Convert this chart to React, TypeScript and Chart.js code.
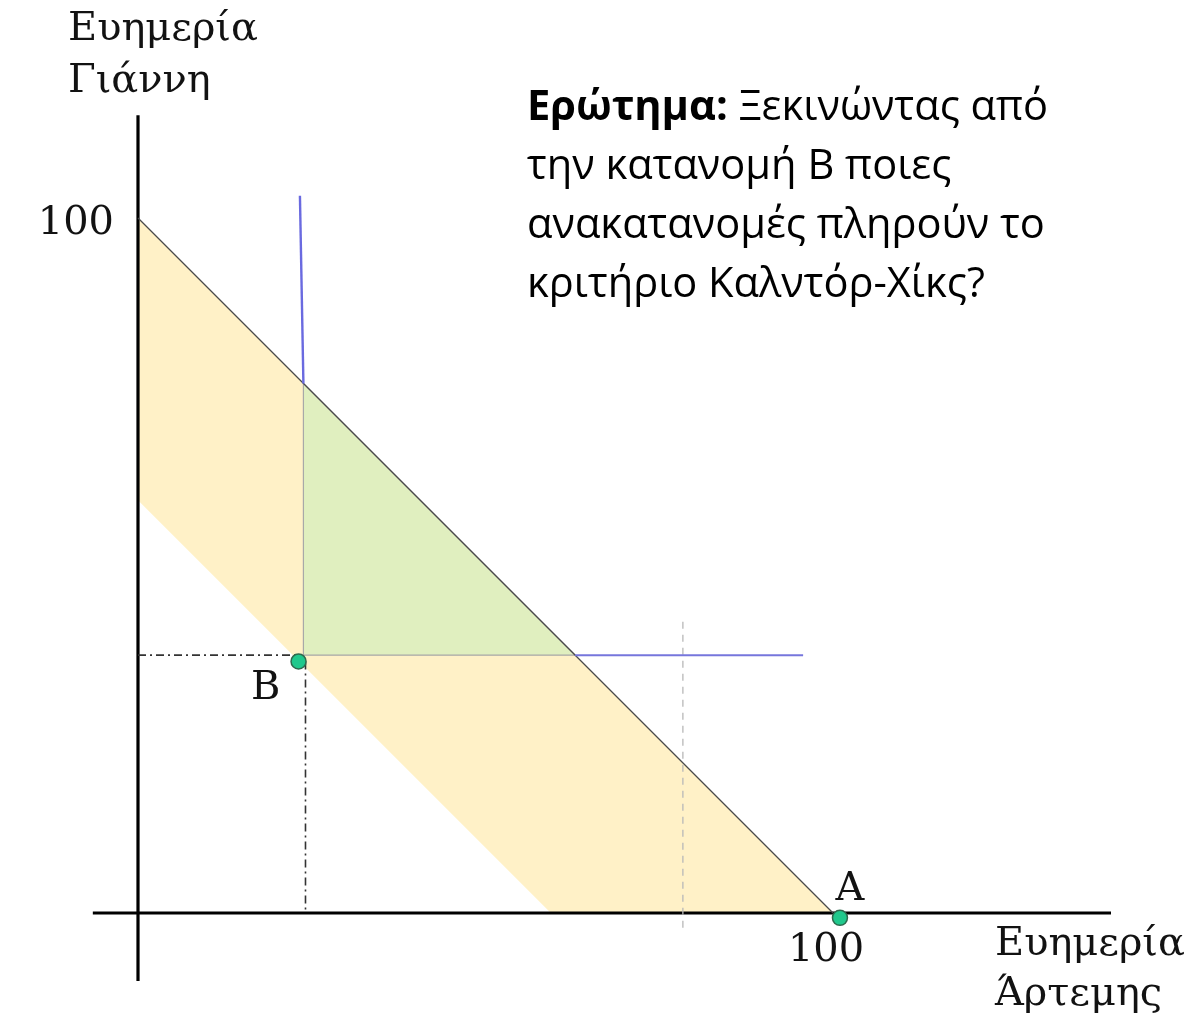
import React, { useEffect, useRef } from "react";
import { Chart, registerables } from "chart.js";

Chart.register(...registerables);

// ---- data (welfare units, 0..100) ----
const bandX = [0, 100, 59.4, 0, 0];
const bandY = [100, 0, 0, 59.4, 100];
const gainX = [23.8, 23.8, 62.9, 23.8];
const gainY = [76.2, 37.1, 37.1, 76.2];
const frontierX = [0, 100];
const frontierY = [100, 0];
const blueVX = [23.3, 23.8];
const blueVY = [103.2, 76.2];
const blueHX = [62.9, 95.7];
const blueHY = [37.1, 37.1];
const guideHX = [0, 22.9];
const guideHY = [37.1, 37.1];
const guideVX = [24.1, 24.1];
const guideVY = [36.2, 0];
const refX = [78.4, 78.4];
const refY = [41.9, -2.4];
const pointNames = ["B", "A"];
const pointX = [23.1, 101];
const pointY = [36.2, -0.7];
const axisHX = [-6.5, 140];
const axisHY = [0, 0];
const axisVX = [0, 0];
const axisVY = [114.8, -9.8];
const tickValue = 100;
const tickLabel = "100";
const yTitle = ["Ευημερία", "Γιάννη"];
const xTitle = ["Ευημερία", "Άρτεμης"];
const questionBold = "Ερώτημα:";
const questionLines = [" Ξεκινώντας από", "την κατανομή Β ποιες", "ανακατανομές πληρούν το", "κριτήριο Καλντόρ-Χίκς?"];

const zip = (xs: number[], ys: number[]) => xs.map((x, i) => ({ x, y: ys[i] }));

const textPlugin = {
  id: "textLabels",
  afterDraw(chart: any) {
    const ctx = chart.ctx as CanvasRenderingContext2D;
    const sx = chart.scales.x;
    const sy = chart.scales.y;
    ctx.save();
    ctx.fillStyle = "#121212";
    ctx.textBaseline = "alphabetic";

    const serif = '"DejaVu Serif", "Liberation Serif", serif';
    ctx.font = `100px ${serif}`;
    const sSize = (100 * 190) / ctx.measureText(yTitle[0]).width;
    ctx.font = `${sSize}px ${serif}`;
    ctx.textAlign = "left";
    ctx.fillText(yTitle[0], 68, 40);
    ctx.fillText(yTitle[1], 68, 92);
    ctx.fillText(xTitle[0], 995, 955);
    ctx.fillText(xTitle[1], 995, 1005);

    // ticks
    ctx.textAlign = "right";
    ctx.fillText(tickLabel, sx.getPixelForValue(0) - 24, sy.getPixelForValue(tickValue) + 16);
    ctx.textAlign = "center";
    ctx.fillText(tickLabel, sx.getPixelForValue(tickValue) - 7, sy.getPixelForValue(0) + 48);

    // point labels
    const bx = sx.getPixelForValue(pointX[0]);
    const by = sy.getPixelForValue(pointY[0]);
    ctx.fillText(pointNames[0], bx - 33, by + 38);
    const ax = sx.getPixelForValue(pointX[1]);
    const ay = sy.getPixelForValue(pointY[1]);
    ctx.fillText(pointNames[1], ax + 10, ay - 18);

    // question
    const sans = '"Open Sans", "Noto Sans", sans-serif';
    ctx.font = `100px ${sans}`;
    const qSize = (100 * 518) / ctx.measureText(questionLines[2]).width;
    ctx.textAlign = "left";
    ctx.fillStyle = "#000";
    ctx.font = `bold ${qSize}px ${sans}`;
    ctx.fillText(questionBold, 527, 120);
    const bw = ctx.measureText(questionBold).width;
    ctx.font = `${qSize}px ${sans}`;
    ctx.fillText(questionLines[0], 527 + bw, 120);
    ctx.fillText(questionLines[1], 527, 179);
    ctx.fillText(questionLines[2], 527, 238);
    ctx.fillText(questionLines[3], 527, 297);
    ctx.restore();
  },
};

export default function App() {
  const ref = useRef<HTMLCanvasElement | null>(null);
  useEffect(() => {
    if (!ref.current) return;
    const line = (data: any[], color: string, width: number, order: number, dash: number[] = []) => ({
      type: "scatter",
      data,
      showLine: true,
      borderColor: color,
      borderWidth: width,
      borderDash: dash,
      pointRadius: 0,
      fill: false,
      order,
    });
    const chart = new Chart(ref.current, {
      type: "scatter",
      data: {
        datasets: [
          {
            ...line(zip(bandX, bandY), "rgba(0,0,0,0)", 0, 20),
            fill: "shape",
            backgroundColor: "rgba(255,241,197,0.97)",
          },
          {
            ...line(zip(gainX, gainY), "#a8a8a8", 1.2, 19),
            fill: "shape",
            backgroundColor: "#e0efbf",
          },
          line(zip(axisHX, axisHY), "#000", 3.2, 10),
          line(zip(axisVX, axisVY), "#000", 3.2, 10),
          line(zip(frontierX, frontierY), "#4a4a4a", 1.2, 9),
          line(zip(blueVX, blueVY), "#6a6ae0", 2.4, 8),
          line(zip(blueHX, blueHY), "#7676dc", 2, 8),
          line(zip(guideHX, guideHY), "#333", 1.6, 8, [8, 4, 2, 4]),
          line(zip(guideVX, guideVY), "#333", 1.6, 8, [8, 4, 2, 4]),
          line(zip(refX, refY), "#b8b8b8", 1.3, 8, [7, 6]),
          {
            type: "scatter",
            data: zip(pointX, pointY),
            pointRadius: 7.5,
            pointBackgroundColor: "#20c88c",
            pointBorderColor: "#2e6a4e",
            pointBorderWidth: 1.5,
            showLine: false,
            order: 0,
          },
        ] as any,
      },
      options: {
        animation: false,
        responsive: true,
        maintainAspectRatio: false,
        layout: { padding: 0, autoPadding: false },
        plugins: { legend: { display: false }, tooltip: { enabled: false } },
        scales: {
          x: { type: "linear", display: false, min: -138 / 6.95, max: (1194 - 138) / 6.95 },
          y: { type: "linear", display: false, min: -(1016 - 913) / 6.95, max: 913 / 6.95 },
        },
      },
      plugins: [textPlugin],
    } as any);
    return () => chart.destroy();
  }, []);
  return (
    <div style={{ position: "absolute", left: 0, top: 0, width: 1194, height: 1016, background: "#fff" }}>
      <canvas ref={ref} />
    </div>
  );
}
